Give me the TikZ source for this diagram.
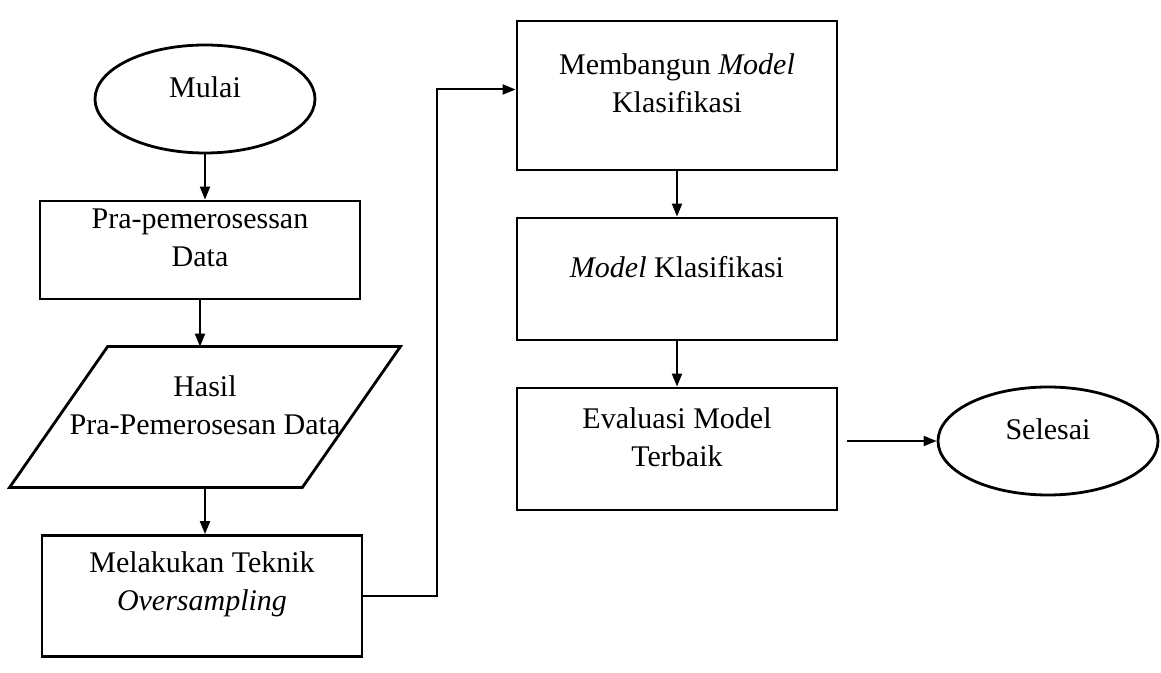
\documentclass[tikz,border=0pt]{standalone}
\usepackage{fontspec}
\setmainfont{Liberation Serif}
\usetikzlibrary{shapes.geometric,arrows.meta}

\tikzset{
  garis/.style={line width=1.4pt},
  proses/.style={draw, garis, rectangle, minimum width=160pt, inner sep=0pt},
  terminal/.style={draw, garis, ellipse, minimum width=110pt, minimum height=54pt, inner sep=0pt},
  data/.style={rectangle, minimum width=146pt, minimum height=70pt, inner sep=0pt},
  teks/.style={label={[yshift=6pt, align=center]center:{#1}}},
  panah/.style={line width=1pt, -{Triangle[length=6.5pt,width=5pt]}}
}

\begin{document}
\begin{tikzpicture}[x=0.5pt, y=-0.5pt, font=\fontsize{15}{19}\selectfont]
    % Batas gambar
    \useasboundingbox (0,0) rectangle (1161,673);

    % Kolom kiri
    \node[terminal, teks=Mulai] (mulai) at (205,99) {};
    \node[proses, minimum height=49pt, teks={Pra-pemerosessan\\Data}] (pra) at (200,250) {};
    \node[data, teks={Hasil\\Pra-Pemerosesan Data}] (hasil) at (205,417) {};
    % jajaran genjang untuk data
    \draw[garis] ([xshift=24.5pt]hasil.north west) -- ([xshift=24.5pt]hasil.north east)
        -- ([xshift=-24.5pt]hasil.south east) -- ([xshift=-24.5pt]hasil.south west) -- cycle;
    \node[proses, minimum height=60.5pt, teks={Melakukan Teknik\\\textit{Oversampling}}] (over) at (202,596) {};

    % Kolom kanan
    \node[proses, minimum height=74.5pt, teks={Membangun \textit{Model}\\Klasifikasi}] (bangun) at (677,95.5) {};
    \node[proses, minimum height=61pt, teks={\textit{Model} Klasifikasi}] (model) at (677,279) {};
    \node[proses, minimum height=61pt, teks={Evaluasi Model\\Terbaik}] (evaluasi) at (677,449) {};
    \node[terminal, teks=Selesai] (selesai) at (1048,441) {};
    \coordinate (evalkeluar) at ([xshift=4.5pt]evaluasi.east);

    % Panah
    \draw[panah] (mulai.south) -- (mulai.south |- pra.north);
    \draw[panah] (pra.south) -- (pra.south |- hasil.north);
    \draw[panah] (hasil.south) -- (hasil.south |- over.north);
    \draw[panah] (over.east) -- ++(74,0) |- ([yshift=3pt]bangun.west);
    \draw[panah] (bangun.south) -- (model.north);
    \draw[panah] (model.south) -- (evaluasi.north);
    \draw[panah] (evalkeluar |- selesai.west) -- (selesai.west);
\end{tikzpicture}
\end{document}
